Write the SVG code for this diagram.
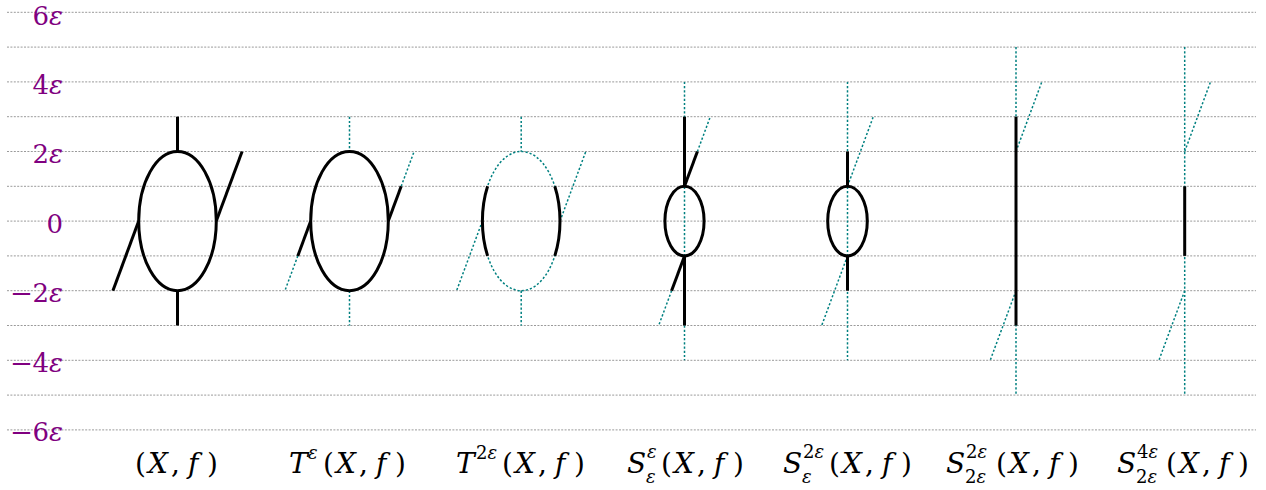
<svg xmlns="http://www.w3.org/2000/svg" width="1266" height="490" viewBox="0 0 1266 490">
<style>
.grid{stroke:#9a9a9a;stroke-width:1;stroke-dasharray:2 1.4;fill:none}
text{font-family:'DejaVu Serif','Liberation Serif',serif}
.tick{font-size:26px;fill:#800080}
.s{stroke:#000;stroke-width:3;fill:none;stroke-linecap:butt}
.d{stroke:#008080;stroke-width:1.5;stroke-dasharray:2.2 2;fill:none}
.lbl{font-size:28px;fill:#000}
.it{font-style:italic}
.sm{font-size:18px;font-style:italic;fill:#000}
.up{font-style:normal}
</style>
<rect width="1266" height="490" fill="#fff"/>
<g id="grid">
<line class="grid" x1="7" y1="12.3" x2="1256" y2="12.3"/>
<line class="grid" x1="7" y1="47.1" x2="1256" y2="47.1"/>
<line class="grid" x1="7" y1="81.9" x2="1256" y2="81.9"/>
<line class="grid" x1="7" y1="116.7" x2="1256" y2="116.7"/>
<line class="grid" x1="7" y1="151.5" x2="1256" y2="151.5"/>
<line class="grid" x1="7" y1="186.3" x2="1256" y2="186.3"/>
<line class="grid" x1="7" y1="221.1" x2="1256" y2="221.1"/>
<line class="grid" x1="7" y1="255.9" x2="1256" y2="255.9"/>
<line class="grid" x1="7" y1="290.7" x2="1256" y2="290.7"/>
<line class="grid" x1="7" y1="325.5" x2="1256" y2="325.5"/>
<line class="grid" x1="7" y1="360.3" x2="1256" y2="360.3"/>
<line class="grid" x1="7" y1="395.1" x2="1256" y2="395.1"/>
<line class="grid" x1="7" y1="429.9" x2="1256" y2="429.9"/>
</g>
<g id="axis-labels">
<text class="tick" x="63" y="24.5" text-anchor="end">6<tspan class="it">ε</tspan></text>
<text class="tick" x="63" y="93.5" text-anchor="end">4<tspan class="it">ε</tspan></text>
<text class="tick" x="63" y="163" text-anchor="end">2<tspan class="it">ε</tspan></text>
<text class="tick" x="63" y="232.5" text-anchor="end">0</text>
<text class="tick" x="63" y="302" text-anchor="end">2<tspan class="it">ε</tspan></text>
<text class="tick" x="10" y="302" textLength="23" lengthAdjust="spacingAndGlyphs">−</text>
<text class="tick" x="63" y="371.5" text-anchor="end">4<tspan class="it">ε</tspan></text>
<text class="tick" x="10" y="371.5" textLength="23" lengthAdjust="spacingAndGlyphs">−</text>
<text class="tick" x="63" y="441" text-anchor="end">6<tspan class="it">ε</tspan></text>
<text class="tick" x="10" y="441" textLength="23" lengthAdjust="spacingAndGlyphs">−</text>
</g>
<g id="node-Xf">
<line class="s" x1="177.5" y1="116.7" x2="177.5" y2="151.5"/>
<line class="s" x1="177.5" y1="290.7" x2="177.5" y2="325.5"/>
<line class="s" x1="138.7" y1="221.1" x2="112.9" y2="290.7"/>
<line class="s" x1="216.3" y1="221.1" x2="242.1" y2="151.5"/>
<ellipse class="s" cx="177.5" cy="221.1" rx="38.8" ry="69.6"/>
<text class="lbl" y="473"><tspan x="135">(</tspan><tspan class="it" x="148">X</tspan><tspan x="171">,</tspan><tspan class="it" x="188">f</tspan><tspan x="207">)</tspan></text>
</g>
<g id="node-Teps">
<line class="d" x1="349.5" y1="116.7" x2="349.5" y2="151.5"/>
<line class="d" x1="349.5" y1="290.7" x2="349.5" y2="325.5"/>
<line class="d" x1="297.8" y1="255.9" x2="284.9" y2="290.7"/>
<line class="d" x1="401.2" y1="186.3" x2="414.1" y2="151.5"/>
<line class="s" x1="310.7" y1="221.1" x2="297.8" y2="255.9"/>
<line class="s" x1="388.3" y1="221.1" x2="401.2" y2="186.3"/>
<ellipse class="s" cx="349.5" cy="221.1" rx="38.8" ry="69.6"/>
<text class="lbl it" x="289" y="473">T</text>
<text class="sm" x="308" y="459">ε</text>
<text class="lbl" y="473"><tspan x="323">(</tspan><tspan class="it" x="336">X</tspan><tspan x="359">,</tspan><tspan class="it" x="376">f</tspan><tspan x="395">)</tspan></text>
</g>
<g id="node-T2eps">
<line class="d" x1="521.2" y1="116.7" x2="521.2" y2="151.5"/>
<line class="d" x1="521.2" y1="290.7" x2="521.2" y2="325.5"/>
<line class="d" x1="482.4" y1="221.1" x2="456.6" y2="290.7"/>
<line class="d" x1="560" y1="221.1" x2="585.8" y2="151.5"/>
<ellipse class="d" cx="521.2" cy="221.1" rx="38.8" ry="69.6"/>
<path class="s" d="M487.6 186.3 A38.8 69.6 0 0 0 487.6 255.9"/>
<path class="s" d="M554.8 186.3 A38.8 69.6 0 0 1 554.8 255.9"/>
<text class="lbl it" x="456" y="473">T</text>
<text class="sm" x="476" y="459"><tspan class="up">2</tspan>ε</text>
<text class="lbl" y="473"><tspan x="502">(</tspan><tspan class="it" x="515">X</tspan><tspan x="538">,</tspan><tspan class="it" x="555">f</tspan><tspan x="574">)</tspan></text>
</g>
<g id="node-S-eps-eps">
<line class="d" x1="684.5" y1="81.9" x2="684.5" y2="360.3"/>
<line class="d" x1="697.4" y1="151.5" x2="710.3" y2="116.7"/>
<line class="d" x1="671.6" y1="290.7" x2="658.7" y2="325.5"/>
<line class="s" x1="684.5" y1="116.7" x2="684.5" y2="186.3"/>
<line class="s" x1="684.5" y1="255.9" x2="684.5" y2="325.5"/>
<line class="s" x1="684.5" y1="186.3" x2="697.4" y2="151.5"/>
<line class="s" x1="684.5" y1="255.9" x2="671.6" y2="290.7"/>
<ellipse class="s" cx="684.5" cy="221.1" rx="19.6" ry="34.8"/>
<text class="lbl it" x="627" y="473">S</text>
<text class="sm" x="647" y="458">ε</text>
<text class="sm" x="646" y="483">ε</text>
<text class="lbl" y="473"><tspan x="661">(</tspan><tspan class="it" x="674">X</tspan><tspan x="697">,</tspan><tspan class="it" x="714">f</tspan><tspan x="733">)</tspan></text>
</g>
<g id="node-S-eps-2eps">
<line class="d" x1="847.5" y1="81.9" x2="847.5" y2="360.3"/>
<line class="d" x1="847.5" y1="186.3" x2="873.3" y2="116.7"/>
<line class="d" x1="847.5" y1="255.9" x2="821.7" y2="325.5"/>
<line class="s" x1="847.5" y1="151.5" x2="847.5" y2="186.3"/>
<line class="s" x1="847.5" y1="255.9" x2="847.5" y2="290.7"/>
<ellipse class="s" cx="847.5" cy="221.1" rx="19.8" ry="34.8"/>
<text class="lbl it" x="783" y="473">S</text>
<text class="sm" x="803" y="458"><tspan class="up">2</tspan>ε</text>
<text class="sm" x="802" y="483">ε</text>
<text class="lbl" y="473"><tspan x="829">(</tspan><tspan class="it" x="842">X</tspan><tspan x="865">,</tspan><tspan class="it" x="882">f</tspan><tspan x="901">)</tspan></text>
</g>
<g id="node-S-2eps-2eps">
<line class="d" x1="1016" y1="47.1" x2="1016" y2="395.1"/>
<line class="d" x1="1016" y1="151.5" x2="1041.8" y2="81.9"/>
<line class="d" x1="1016" y1="290.7" x2="990.2" y2="360.3"/>
<line class="s" x1="1016" y1="116.7" x2="1016" y2="325.5"/>
<text class="lbl it" x="946" y="473">S</text>
<text class="sm" x="966" y="458"><tspan class="up">2</tspan>ε</text>
<text class="sm" x="965" y="483"><tspan class="up">2</tspan>ε</text>
<text class="lbl" y="473"><tspan x="996">(</tspan><tspan class="it" x="1009">X</tspan><tspan x="1032">,</tspan><tspan class="it" x="1049">f</tspan><tspan x="1068">)</tspan></text>
</g>
<g id="node-S-2eps-4eps">
<line class="d" x1="1184.7" y1="47.1" x2="1184.7" y2="395.1"/>
<line class="d" x1="1184.7" y1="151.5" x2="1210.5" y2="81.9"/>
<line class="d" x1="1184.7" y1="290.7" x2="1158.9" y2="360.3"/>
<line class="s" x1="1184.7" y1="186.3" x2="1184.7" y2="255.9"/>
<text class="lbl it" x="1117" y="473">S</text>
<text class="sm" x="1137" y="458"><tspan class="up">4</tspan>ε</text>
<text class="sm" x="1136" y="483"><tspan class="up">2</tspan>ε</text>
<text class="lbl" y="473"><tspan x="1166">(</tspan><tspan class="it" x="1179">X</tspan><tspan x="1202">,</tspan><tspan class="it" x="1219">f</tspan><tspan x="1238">)</tspan></text>
</g>
</svg>
